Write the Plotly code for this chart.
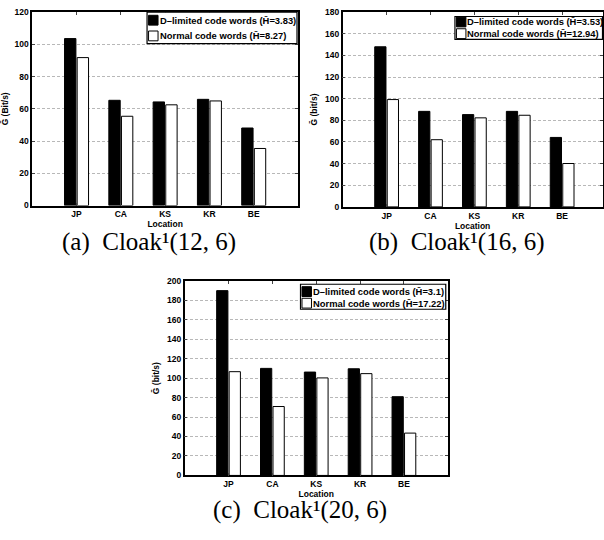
import plotly.graph_objects as go

locations = ["JP", "CA", "KS", "KR", "BE"]
loc_pos = [1, 2, 3, 4, 5]

dlim_a = [103.6, 65.3, 64.3, 65.9, 48.1]
norm_a = [91.8, 55.4, 62.5, 64.9, 35.4]
dlim_b = [148.0, 88.3, 85.3, 88.3, 64.2]
norm_b = [99.2, 62.1, 82.3, 84.7, 40.1]
dlim_c = [189.9, 110.0, 106.2, 109.6, 80.9]
norm_c = [106.6, 70.8, 100.2, 104.6, 43.5]

names_dlim = ["D\u2013limited code words (H\u0304=3.83)",
              "D\u2013limited code words (H\u0304=3.53)",
              "D\u2013limited code words (H\u0304=3.1)"]
names_norm = ["Normal code words (H\u0304=8.27)",
              "Normal code words (H\u0304=12.94)",
              "Normal code words (H\u0304=17.22)"]
ytitles = ["\u1E20 (Bit/s)", "\u1E20 (bit/s)", "\u1E20 (bit/s)"]
captions = ["(a)  Cloak\u00B9(12, 6)", "(b)  Cloak\u00B9(16, 6)", "(c)  Cloak\u00B9(20, 6)"]
ymax = [120, 180, 200]

W, H = 604, 540
def px(x): return x / W
def py(y): return 1 - y / H

# panel boxes in pixels: left, right, top, bottom
boxes = [(32.3, 298.5, 7.3, 204.3), (343.3, 603.5, 7.3, 205.7), (185, 448.5, 281, 479.3)]
xranges = [[0, 6], [0, 5.92], [0, 6]]
# legend boxes: left, right, top, bottom, row1 centre, row2 centre
legend_boxes = [(147.3, 297.5, 7.3, 39.3, 15.5, 31.5),
                (455.7, 603.5, 11.7, 35.0, 17.3, 29.2),
                (301.0, 446.5, 284.5, 310.0, 292.0, 303.8)]
caption_pos = [(149, 241), (458, 241), (300, 515)]

tick_font = dict(family="Liberation Sans", size=8.5, color="black", weight="bold")
leg_font = dict(family="Liberation Sans", size=9.4, color="black", weight="bold")
fig = go.Figure()
data = [(dlim_a, norm_a), (dlim_b, norm_b), (dlim_c, norm_c)]
for i, (d, n) in enumerate(data):
    sfx = "" if i == 0 else str(i + 1)
    fig.add_trace(go.Bar(x=loc_pos, y=d, name=names_dlim[i], xaxis="x" + sfx, yaxis="y" + sfx,
                         marker=dict(color="black", line=dict(color="black", width=1)),
                         offsetgroup="d", showlegend=False))
    fig.add_trace(go.Bar(x=loc_pos, y=n, name=names_norm[i], xaxis="x" + sfx, yaxis="y" + sfx,
                         marker=dict(color="white", line=dict(color="black", width=1)),
                         offsetgroup="n", showlegend=False))
    l, r, t, b = boxes[i]
    fig.layout["xaxis" + sfx] = dict(
        domain=[px(l), px(r)], range=xranges[i], anchor="y" + sfx,
        tickvals=loc_pos, ticktext=locations, ticks="inside", ticklen=3,
        showline=True, linecolor="black", linewidth=1.5, mirror="ticks",
        showgrid=False, zeroline=False, tickfont=tick_font,
        title=dict(text="Location", font=tick_font, standoff=2))
    fig.layout["yaxis" + sfx] = dict(
        domain=[py(b), py(t)], range=[0, ymax[i]], dtick=20, anchor="x" + sfx,
        ticks="inside", ticklen=3, showline=True, linecolor="black", linewidth=1.5,
        mirror="ticks", showgrid=True, gridcolor="#b8b8b8", griddash="3px,2px",
        gridwidth=1, zeroline=False, tickfont=tick_font,
        title=dict(text=ytitles[i], font=tick_font, standoff=6))

    # legend drawn as box, swatches and text
    L, R, T, B, r1, r2 = legend_boxes[i]
    fig.add_shape(type="rect", xref="paper", yref="paper", x0=px(L), x1=px(R), y0=py(B), y1=py(T),
                  fillcolor="white", line=dict(color="black", width=1.2), layer="above")
    for rc, col, nm in [(r1, "black", names_dlim[i]), (r2, "white", names_norm[i])]:
        fig.add_shape(type="rect", xref="paper", yref="paper",
                      x0=px(L + 1.5), x1=px(L + 11), y0=py(rc + 5), y1=py(rc - 5),
                      fillcolor=col, line=dict(color="black", width=1), layer="above")
        fig.add_annotation(text=nm, x=px(L + 11.5), y=py(rc), xref="paper", yref="paper",
                           showarrow=False, xanchor="left", yanchor="middle",
                           font=leg_font, borderpad=0)

    cx, cy = caption_pos[i]
    fig.add_annotation(text=captions[i], x=px(cx), y=py(cy), xref="paper", yref="paper",
                       showarrow=False, xanchor="center", yanchor="middle",
                       font=dict(family="Liberation Serif", size=25, color="black"))

fig.update_layout(width=W, height=H, margin=dict(l=0, r=0, t=0, b=0, pad=0),
                  paper_bgcolor="white", plot_bgcolor="white",
                  barmode="group", bargap=0.43, bargroupgap=0.1, showlegend=False)
fig.write_html("out.html", config={"displayModeBar": False},
               post_script="document.body.style.margin='0';document.body.style.overflow='hidden';")
